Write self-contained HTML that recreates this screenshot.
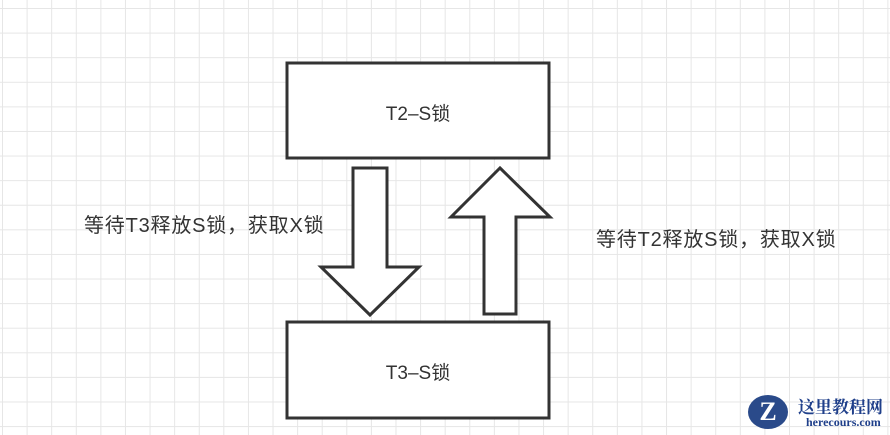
<!DOCTYPE html>
<html><head><meta charset="utf-8"><style>
html,body{margin:0;padding:0;}
body{width:890px;height:435px;overflow:hidden;background:#fff;
background-image:linear-gradient(to right,#e6e6e6 1px,transparent 1px),linear-gradient(to bottom,#e6e6e6 1px,transparent 1px);
background-size:24.6px 24.6px;background-position:2px 8px;position:relative;
font-family:"Liberation Sans","Noto Sans CJK SC",sans-serif;color:#333;}
.lbl{position:absolute;font-size:20px;white-space:nowrap;letter-spacing:0.8px;}
</style></head><body>
<svg width="890" height="435" style="position:absolute;left:0;top:0">
<g fill="#fff" stroke="#333" stroke-width="3" stroke-linejoin="miter">
<rect x="287" y="63" width="262" height="95"/>
<rect x="287" y="322" width="262" height="96"/>
<polygon points="353,168 387,168 387,267 419,267 370,315 321,267 353,267"/>
<polygon points="500,168 550,217 516,217 516,314 484,314 484,217 451,217"/>
</g>
<g font-family="Liberation Sans, Noto Sans CJK SC, sans-serif" font-size="19" fill="#333" text-anchor="middle">
<text x="418" y="120">T2–S锁</text>
<text x="418" y="379">T3–S锁</text>
</g>
</svg>
<div class="lbl" style="left:84px;top:209px;">等待T3释放S锁，获取X锁</div>
<div class="lbl" style="left:596px;top:223px;">等待T2释放S锁，获取X锁</div>
<div style="position:absolute;left:748px;top:395px;width:40px;height:34px;border-radius:50%;background:#2a4a8a;color:#fff;font:bold 26px 'Liberation Serif',serif;text-align:center;line-height:34px;">Z</div>
<div style="position:absolute;left:798px;top:393px;font:bold 17px 'Noto Serif CJK SC',serif;color:#1f3f8a;">这里教程网</div>
<div style="position:absolute;left:806px;top:415px;font:bold 12px 'Liberation Serif',serif;color:#1f3f8a;">herecours.com</div>
</body></html>
